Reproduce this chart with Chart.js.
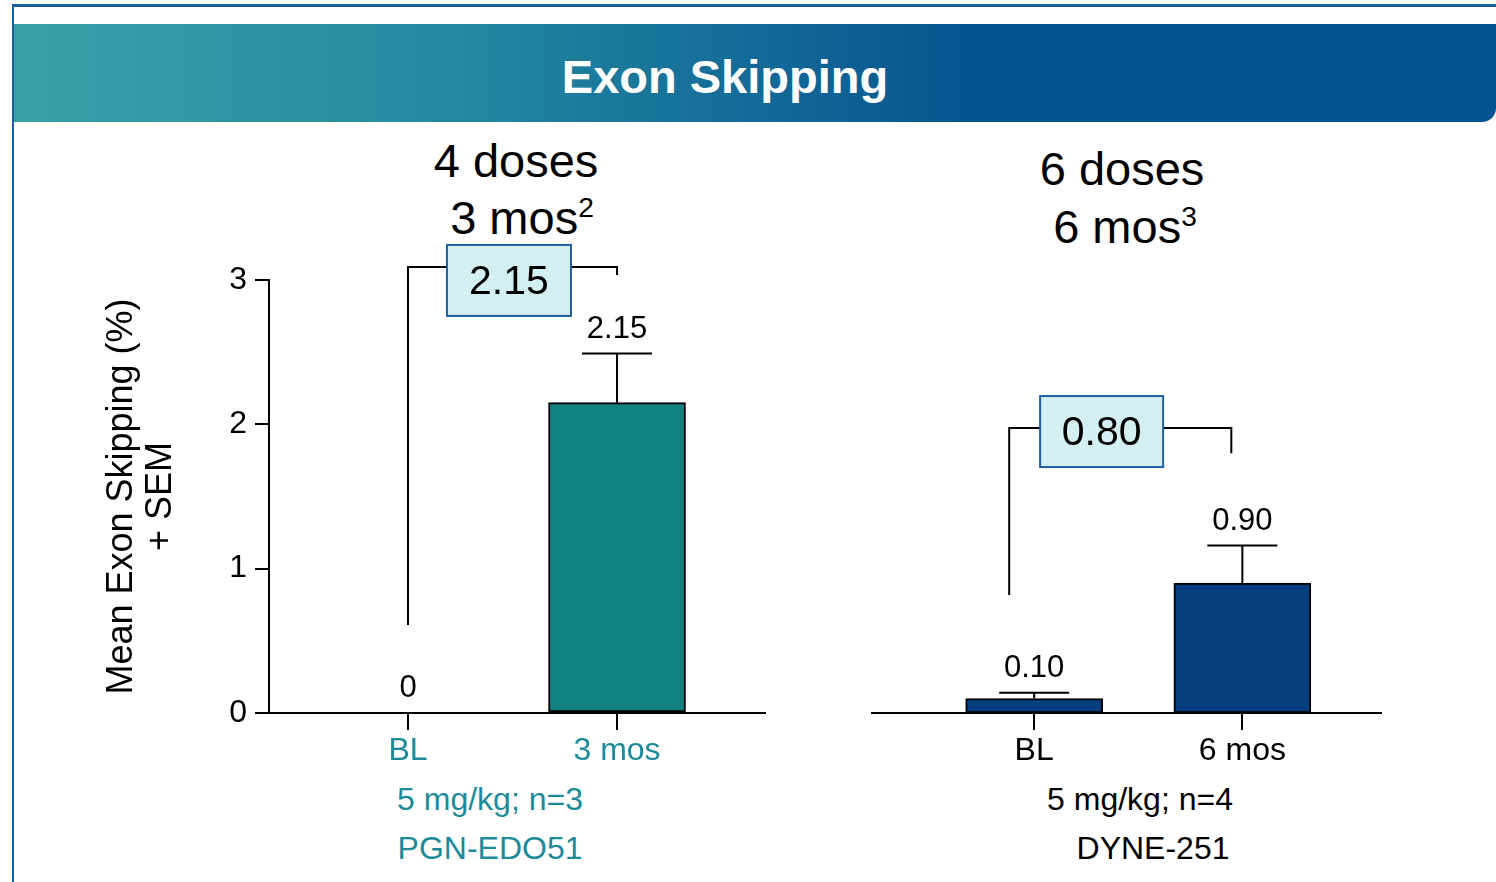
<!DOCTYPE html>
<html>
<head>
<meta charset="utf-8">
<script src="https://cdn.jsdelivr.net/npm/chart.js@4.4.1/dist/chart.umd.min.js"></script>
<style>
  html, body { margin: 0; padding: 0; background: #fff; }
  body { width: 1496px; height: 882px; overflow: hidden; position: relative; font-family: "Liberation Sans", Arial, sans-serif; }
  .frame { position: absolute; left: 12px; top: 4px; width: 1500px; height: 900px; border-top: 3px solid #1d5f9b; border-left: 2px solid #1d5f9b; }
  .band { position: absolute; left: 14px; top: 24px; width: 1482px; height: 98px;
    background: linear-gradient(to right, #3aa0a8 0%, #2489a0 30%, #136a97 50%, #06558f 64%, #05538f 100%);
    border-bottom-right-radius: 14px; }
  .title { position: absolute; left: 0; width: 1450px; text-align: center; top: 53px; font-size: 47px; line-height: 47px; font-weight: bold; color: #fff; }
  .txt { position: absolute; white-space: nowrap; transform: translateX(-50%); }
  .panel { font-size: 47px; line-height: 47px; color: #000; }
  .foot { font-size: 32px; line-height: 32px; }
  sup { font-size: 0.6em; line-height: 0; vertical-align: 0.6em; }
  canvas { position: absolute; }
</style>
</head>
<body>
<div class="frame"></div>
<div class="band"></div>
<div class="title">Exon Skipping</div>

<div class="txt panel" style="left:516px; top:137px;">4 doses</div>
<div class="txt panel" style="left:522px; top:194px;">3 mos<sup>2</sup></div>
<div class="txt panel" style="left:1122px; top:145px;">6 doses</div>
<div class="txt panel" style="left:1125px; top:203px;">6 mos<sup>3</sup></div>

<div class="txt foot" style="left:490px; top:783px; color:#1d8a9a;">5 mg/kg; n=3</div>
<div class="txt foot" style="left:490px; top:832px; color:#1d8a9a;">PGN-EDO51</div>
<div class="txt foot" style="left:1140px; top:783px; color:#000;">5 mg/kg; n=4</div>
<div class="txt foot" style="left:1153px; top:832px; color:#000;">DYNE-251</div>

<canvas id="leftChart" width="700" height="540" style="left:80px; top:240px;"></canvas>
<canvas id="rightChart" width="600" height="540" style="left:820px; top:240px;"></canvas>

<script>
// data
var categoriesLeft = ['BL', '3 mos'];
var meanLeft = [0, 2.15];
var semLeft = [0, 0.34];
var changeLeft = '2.15';

var categoriesRight = ['BL', '6 mos'];
var meanRight = [0.10, 0.90];
var semRight = [0.04, 0.26];
var changeRight = '0.80';

var yTickValues = [0, 1, 2, 3];
var yTitle = ['Mean Exon Skipping (%)', '+ SEM'];

var FONT = '"Liberation Sans", Arial, sans-serif';

function fmt(v) {
	return v === 0 ? '0' : v.toFixed(2);
}

// error bars + value labels on top of each bar
var errorBarPlugin = {
	id: 'errorBars',
	afterDatasetsDraw: function(chart, args, opts) {
		var ctx = chart.ctx;
		var y = chart.scales.y;
		var meta = chart.getDatasetMeta(0);
		var ds = chart.data.datasets[0];
		ctx.save();
		ctx.strokeStyle = '#000';
		ctx.lineWidth = 2;
		meta.data.forEach(function(bar, i) {
			var v = ds.data[i].y;
			var e = opts.sem[i];
			var yTop = y.getPixelForValue(v);
			var yErr = y.getPixelForValue(v + e);
			if (e > 0) {
				ctx.beginPath();
				ctx.moveTo(bar.x, yTop);
				ctx.lineTo(bar.x, yErr);
				ctx.moveTo(bar.x - opts.capWidth / 2, yErr);
				ctx.lineTo(bar.x + opts.capWidth / 2, yErr);
				ctx.stroke();
			}
			ctx.fillStyle = '#000';
			ctx.font = '31px ' + FONT;
			ctx.textAlign = 'center';
			ctx.textBaseline = 'alphabetic';
			ctx.fillText(fmt(v), bar.x, yErr - 16);
		});
		ctx.restore();
	}
};

// comparison bracket with boxed value
var bracketPlugin = {
	id: 'bracket',
	afterDraw: function(chart, args, o) {
		var ctx = chart.ctx;
		var x = chart.scales.x, y = chart.scales.y;
		var xl = x.getPixelForValue(o.xLeft), xr = x.getPixelForValue(o.xRight);
		var yt = y.getPixelForValue(o.yTop);
		var bx = x.getPixelForValue(o.boxX), by = y.getPixelForValue(o.boxY);
		ctx.save();
		ctx.strokeStyle = '#000';
		ctx.lineWidth = 2;
		ctx.beginPath();
		ctx.moveTo(xl, y.getPixelForValue(o.yLeftEnd));
		ctx.lineTo(xl, yt);
		ctx.lineTo(xr, yt);
		ctx.lineTo(xr, y.getPixelForValue(o.yRightEnd));
		ctx.stroke();
		ctx.fillStyle = '#d3eff1';
		ctx.fillRect(bx - o.boxW / 2, by - o.boxH / 2, o.boxW, o.boxH);
		ctx.strokeStyle = '#1f5f9f';
		ctx.strokeRect(bx - o.boxW / 2, by - o.boxH / 2, o.boxW, o.boxH);
		ctx.fillStyle = '#000';
		ctx.font = '41px ' + FONT;
		ctx.textAlign = 'center';
		ctx.textBaseline = 'middle';
		ctx.fillText(o.text, bx, by + 2);
		ctx.restore();
	}
};

function makeChart(id, cats, means, sems, color, labelColor, xRange, showY, pad, bracket) {
	var pts = means.map(function(v, i) { return {x: i + 1, y: v}; });
	return new Chart(document.getElementById(id), {
		type: 'bar',
		data: {
			datasets: [{
				data: pts,
				backgroundColor: color,
				borderColor: '#000',
				borderWidth: 2,
				borderSkipped: false,
				barThickness: 137
			}]
		},
		options: {
			responsive: false,
			animation: false,
			layout: { padding: pad },
			plugins: {
				legend: { display: false },
				tooltip: { enabled: false },
				errorBars: { sem: sems, capWidth: 70 },
				bracket: bracket
			},
			scales: {
				x: {
					type: 'linear',
					min: xRange[0],
					max: xRange[1],
					bounds: 'data',
					offset: false,
					afterDataLimits: function(s) { s.min = xRange[0]; s.max = xRange[1]; },
					afterBuildTicks: function(s) {
						s.ticks = cats.map(function(c, i) { return {value: i + 1}; });
					},
					afterFit: function(s) { s.height = 67; },
					ticks: {
						callback: function(v) { return cats[v - 1]; },
						color: labelColor,
						font: { family: FONT, size: 32 },
						padding: 2,
						maxRotation: 0
					},
					grid: { offset: false, drawOnChartArea: false, color: '#000', lineWidth: 2, tickLength: 17 },
					border: { color: '#000', width: 2 }
				},
				y: {
					display: showY,
					min: 0,
					max: 3,
					afterBuildTicks: function(s) {
						s.ticks = yTickValues.map(function(v) { return {value: v}; });
					},
					afterFit: function(s) { s.width = showY ? 189 : 0; },
					ticks: {
						color: '#000',
						font: { family: FONT, size: 32 },
						padding: 8
					},
					grid: { drawOnChartArea: false, color: '#000', lineWidth: 2, tickLength: 14 },
					border: { color: '#000', width: 2 },
					title: {
						display: true,
						text: yTitle,
						color: '#000',
						font: { family: FONT, size: 36, lineHeight: 1.1 },
						padding: { top: 22, bottom: 0 }
					}
				}
			}
		},
		plugins: [errorBarPlugin, bracketPlugin]
	});
}

makeChart('leftChart', categoriesLeft, meanLeft, semLeft, '#128280', '#1d8a9a',
	[0.335, 2.708], true, { top: 40, right: 15, bottom: 0, left: 0 },
	{ xLeft: 1, xRight: 2, yTop: 3.09, yLeftEnd: 0.61, yRightEnd: 3.035,
	  boxX: 1.483, boxY: 2.997, boxW: 124, boxH: 71, text: changeLeft });

makeChart('rightChart', categoriesRight, meanRight, semRight, '#053f7e', '#000',
	[0.221, 2.666], false, { top: 40, right: 39, bottom: 0, left: 52 },
	{ xLeft: 0.880, xRight: 1.947, yTop: 1.975, yLeftEnd: 0.818, yRightEnd: 1.80,
	  boxX: 1.324, boxY: 1.95, boxW: 123, boxH: 71, text: changeRight });
</script>
</body>
</html>
